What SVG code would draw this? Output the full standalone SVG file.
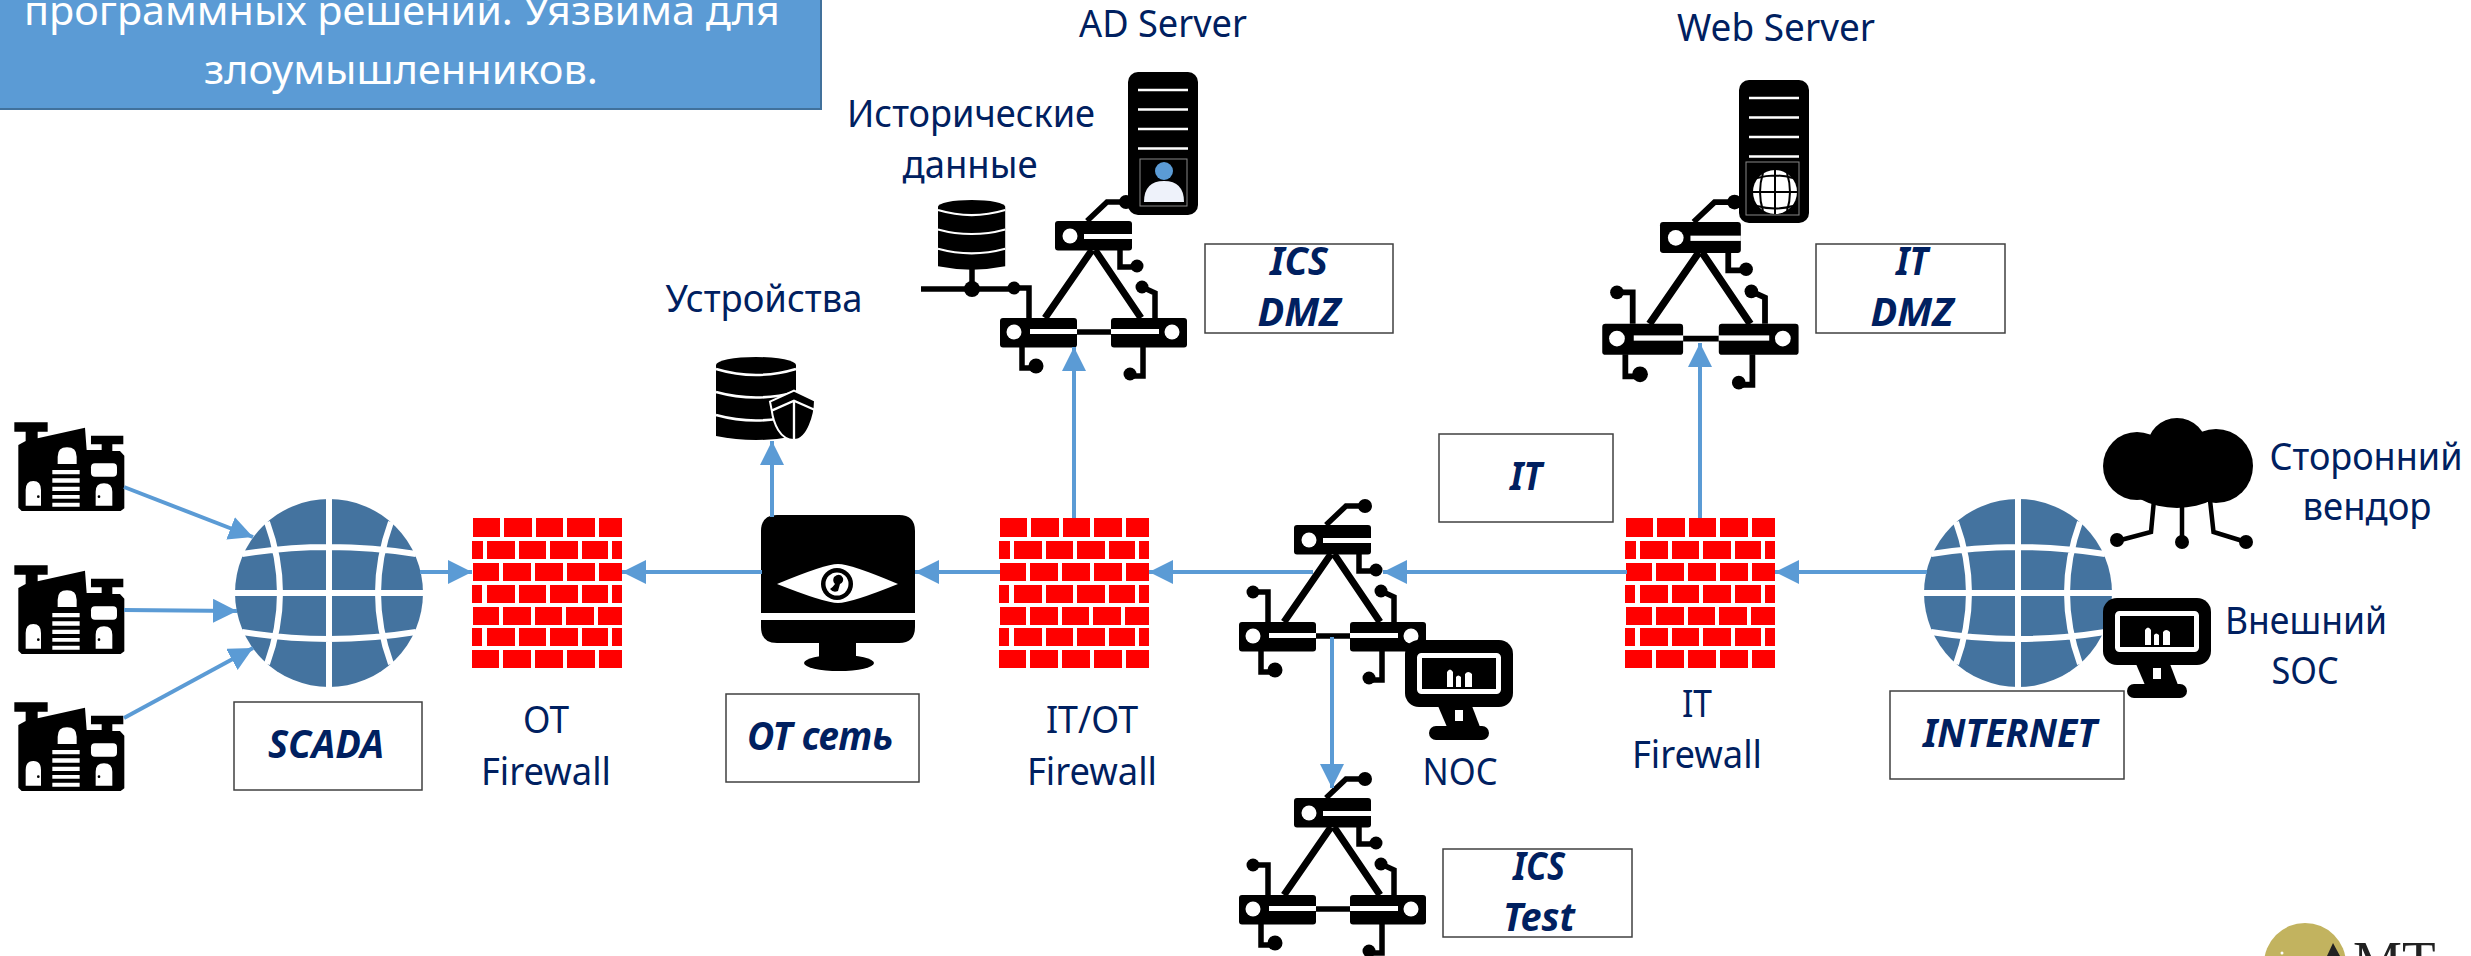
<svg xmlns="http://www.w3.org/2000/svg" width="2471" height="956" viewBox="0 0 2471 956">
<style>
.lbl{font-family:"Noto Sans","Open Sans","DejaVu Sans",sans-serif;font-size:38px;fill:#002060;text-anchor:middle}
.tag{font-family:"Noto Sans","Open Sans","DejaVu Sans",sans-serif;font-size:39px;font-weight:700;font-style:italic;fill:#002060;text-anchor:middle}
.box{fill:#fff;stroke:#404040;stroke-width:1.5}
.conn{fill:none;stroke:#5B9BD5;stroke-width:4;marker-end:url(#arr)}
.w{fill:none;stroke:#000;stroke-width:5.5}
.t{fill:none;stroke:#000;stroke-width:7}
.gl{fill:none;stroke:#fff;stroke-width:6}
</style>
<defs>
<marker id="arr" markerUnits="userSpaceOnUse" markerWidth="24" markerHeight="24" refX="24" refY="12" orient="auto"><path d="M0,0L24,12L0,24Z" fill="#5B9BD5"/></marker>
<g id="globe">
<circle r="94" fill="#44739F"/>
<path class="gl" d="M0,-95V95M-95,0H95M-87,-39Q0,-53 87,-39M-87,39Q0,53 87,39M-62,-71Q-36,0 -62,71M62,-71Q36,0 62,71"/>
</g>
<g id="factory" transform="scale(.3333)">
<path d="M28,22H128V50H98V70L240,38L245,105H290V88H258V62H355V88H322V108H345L358,122V280L347,288H50L40,278V90L62,78V50H28Z"/>
<path fill="#fff" d="M158,147V125Q158,97 186,97Q215,97 215,125V147ZM142,165H224V178H142ZM142,190H224V203H142ZM142,215H224V228H142ZM142,240H224V251H142ZM142,263H224V275H142ZM62,272V225Q62,198 85,198Q108,198 108,225V272ZM272,272V230Q272,205 297,205Q322,205 322,230V272Z"/>
<rect x="258" y="145" width="78" height="40" rx="12" fill="#fff"/>
<circle cx="100" cy="245" r="4"/><circle cx="282" cy="245" r="4"/>
</g>
<g id="wall" fill="#f00">
<path d="M1,0h27v19h-27zM32,0h28v19h-28zM64,0h27v19h-27zM95,0h28v19h-28zM127,0h23v19h-23z"/>
<path d="M0,23h11v18h-11zM15,23h28v18h-28zM47,23h27v18h-27zM78,23h28v18h-28zM110,23h26v18h-26zM140,23h10v18h-10z"/>
<path d="M1,45h26v18h-26zM31,45h28v18h-28zM63,45h28v18h-28zM95,45h28v18h-28zM127,45h23v18h-23z"/>
<path d="M0,67h10v18h-10zM15,67h28v18h-28zM47,67h27v18h-27zM78,67h28v18h-28zM110,67h26v18h-26zM140,67h10v18h-10z"/>
<path d="M1,89h26v18h-26zM31,89h28v18h-28zM63,89h27v18h-27zM94,89h28v18h-28zM126,89h24v18h-24z"/>
<path d="M0,110h10v18h-10zM15,110h28v18h-28zM47,110h27v18h-27zM78,110h28v18h-28zM110,110h26v18h-26zM140,110h10v18h-10z"/>
<path d="M0,132h27v18h-27zM31,132h28v18h-28zM63,132h28v18h-28zM95,132h28v18h-28zM127,132h23v18h-23z"/>
</g>
<g id="net">
<path class="t" d="M37,29L-10,97M40,29L86,97"/>
<path class="w" d="M22,111H56M32,0L52,-19H71M65,29V46H82M100,97V72L87,66M-26,97V67H-41M-33,126V147H-19M88,126V155H75"/>
<rect width="77" height="29.500" rx="3"/><circle cx="15" cy="15" r="7.500" fill="#fff"/><rect x="29" y="13" width="48" height="5" fill="#fff"/>
<rect x="-55" y="97" width="77" height="29.500" rx="3"/><circle cx="-41" cy="111" r="7.500" fill="#fff"/><rect x="-25" y="108" width="47" height="5" fill="#fff"/>
<rect x="56" y="97" width="76" height="29.500" rx="3"/><circle cx="117" cy="111" r="7.500" fill="#fff"/><rect x="56" y="108" width="48" height="5" fill="#fff"/>
<circle cx="71" cy="-19" r="7"/><circle cx="82" cy="45" r="6.500"/><circle cx="87" cy="66" r="6.500"/><circle cx="-41" cy="67" r="6.500"/><circle cx="-19" cy="145" r="7.500"/><circle cx="75" cy="153" r="6.500"/>
</g>
<g id="mon">
<rect width="108" height="67" rx="14"/>
<path d="M33,66L42,87H75L67,66Z"/>
<rect x="24" y="86" width="60" height="14" rx="7"/>
<rect x="50" y="70" width="8" height="11" fill="#fff"/>
<rect x="14.500" y="15.500" width="79" height="36" rx="2" fill="#000" stroke="#fff" stroke-width="5"/>
<path fill="#fff" d="M42,47V32Q45,27 48,32V47ZM51,47V37Q53,34 56,37V47ZM60,47V34Q63,30 67,34V47Z"/>
</g>
<g id="db">
<path d="M0,8V79Q40,87 80,79V8Z"/>
<ellipse cx="40" cy="8" rx="40" ry="8"/>
<path fill="none" stroke="#fff" stroke-width="2.500" d="M0,12Q40,24 80,12M0,35Q40,46 80,35M0,58Q40,69 80,58"/>
</g>
<g id="srv">
<rect width="70" height="143" rx="10"/>
<path stroke="#fff" stroke-width="2.500" d="M10,18H60M10,37.500H60M10,57H60M10,76.500H60"/>
</g>
</defs>

<g id="note">
<rect x="-3" y="-3" width="824" height="112" fill="#5B9BD5" stroke="#41719C" stroke-width="2"/>
<text x="402" y="25" style="font-family:'Noto Sans','Open Sans',sans-serif;font-size:40px;fill:#fff;text-anchor:middle" textLength="756" lengthAdjust="spacingAndGlyphs">программных решений. Уязвима для</text>
<text x="401" y="84" style="font-family:'Noto Sans','Open Sans',sans-serif;font-size:40px;fill:#fff;text-anchor:middle" textLength="394" lengthAdjust="spacingAndGlyphs">злоумышленников.</text>
</g>

<g id="factory1"><use href="#factory" transform="translate(5,415)"/></g>
<g id="factory2"><use href="#factory" transform="translate(5,558)"/></g>
<g id="factory3"><use href="#factory" transform="translate(5,695)"/></g>

<g id="scada-globe"><use href="#globe" transform="translate(329,593)"/></g>
<g id="scada"><rect class="box" x="234" y="702" width="188" height="88"/><text class="tag" x="326" y="758" textLength="116" lengthAdjust="spacingAndGlyphs">SCADA</text></g>

<g id="ot-firewall"><use href="#wall" transform="translate(472,518)"/>
<text class="lbl" x="546" y="733" textLength="46" lengthAdjust="spacingAndGlyphs">OT</text>
<text class="lbl" x="546" y="785" textLength="130" lengthAdjust="spacingAndGlyphs">Firewall</text></g>

<g id="ot-monitor">
<path d="M761,613V531Q761,515 777,515H899Q915,515 915,531V613ZM761,620H915V627Q915,643 899,643H777Q761,643 761,627Z"/>
<rect x="819" y="642" width="37" height="16"/>
<ellipse cx="839" cy="663" rx="35" ry="8"/>
<path fill="#fff" d="M777,584Q825,564 838,564Q851,564 898,584Q851,603 838,603Q825,603 777,584Z"/>
<circle cx="837" cy="584" r="16"/><circle cx="837" cy="584" r="11.500" fill="#fff"/>
<path d="M834,577Q840,572 843,578Q844,582 840,584L838,591Q833,593 830,589Q833,587 835,584Q832,581 834,577Z"/>
</g>
<g id="ot-net"><rect class="box" x="726" y="694" width="193" height="88"/><text class="tag" x="820" y="750" textLength="146" lengthAdjust="spacingAndGlyphs">ОТ сеть</text></g>

<g id="devices">
<text class="lbl" x="764" y="312" textLength="197" lengthAdjust="spacingAndGlyphs">Устройства</text>
<use href="#db" transform="translate(716,357)"/>
<path transform="translate(680,330) scale(.3333)" d="M270,215L342,182L405,212C405,250 385,330 342,330C300,330 280,280 275,240Z" stroke="#fff" stroke-width="6"/>
<path transform="translate(680,330) scale(.3333)" fill="none" stroke="#fff" stroke-width="7" d="M342,212V330M275,242L342,212L405,240"/>
</g>

<g id="itot-firewall"><use href="#wall" transform="translate(999,518)"/>
<text class="lbl" x="1092" y="733" textLength="92" lengthAdjust="spacingAndGlyphs">IT/OT</text>
<text class="lbl" x="1092" y="785" textLength="130" lengthAdjust="spacingAndGlyphs">Firewall</text></g>

<g id="ics-dmz-net"><use href="#net" transform="translate(1055,221)"/>
<path fill="none" stroke="#000" stroke-width="5.500" d="M921,289H1015"/>
<circle cx="972" cy="289" r="8"/></g>
<g id="historian">
<path fill="none" stroke="#000" stroke-width="5.500" d="M972,268V289"/>
<use href="#db" transform="translate(938,200) scale(.84)"/>
<text class="lbl" x="971" y="127" textLength="248" lengthAdjust="spacingAndGlyphs">Исторические</text>
<text class="lbl" x="970" y="178" textLength="135" lengthAdjust="spacingAndGlyphs">данные</text>
</g>
<g id="ad-server">
<text class="lbl" x="1163" y="37" textLength="168" lengthAdjust="spacingAndGlyphs">AD Server</text>
<use href="#srv" transform="translate(1128,72)"/>
<rect x="1140" y="159" width="47" height="47" fill="#000" stroke="#888" stroke-width="1"/>
<circle cx="1164" cy="171" r="9" fill="#5B9BD5"/>
<path fill="#eef2fa" d="M1144,202Q1144,181 1164,181Q1184,181 1184,202Z"/>
</g>
<g id="ics-dmz"><rect class="box" x="1205" y="244" width="188" height="89"/>
<text class="tag" x="1299" y="275" textLength="58" lengthAdjust="spacingAndGlyphs">ICS</text>
<text class="tag" x="1299" y="326" textLength="83" lengthAdjust="spacingAndGlyphs">DMZ</text></g>

<g id="core-net"><use href="#net" transform="translate(1294,525)"/></g>
<g id="noc"><use href="#mon" transform="translate(1405,640)"/>
<text class="lbl" x="1460" y="785" textLength="75" lengthAdjust="spacingAndGlyphs">NOC</text></g>
<g id="it"><rect class="box" x="1439" y="434" width="174" height="88"/><text class="tag" x="1526" y="490" textLength="32" lengthAdjust="spacingAndGlyphs">IT</text></g>

<g id="test-net"><use href="#net" transform="translate(1294,798)"/></g>
<g id="ics-test"><rect class="box" x="1443" y="849" width="189" height="88"/>
<text class="tag" x="1539" y="880" textLength="52" lengthAdjust="spacingAndGlyphs">ICS</text>
<text class="tag" x="1539" y="931" textLength="72" lengthAdjust="spacingAndGlyphs">Test</text></g>

<g id="it-firewall"><use href="#wall" transform="translate(1625,518)"/>
<text class="lbl" x="1697" y="717" textLength="30" lengthAdjust="spacingAndGlyphs">IT</text>
<text class="lbl" x="1697" y="768" textLength="130" lengthAdjust="spacingAndGlyphs">Firewall</text></g>

<g id="it-dmz-net"><use href="#net" transform="translate(1660,222) scale(1.05)"/></g>
<g id="web-server">
<text class="lbl" x="1776" y="41" textLength="198" lengthAdjust="spacingAndGlyphs">Web Server</text>
<use href="#srv" transform="translate(1739,80)"/>
<rect x="1746" y="162" width="53" height="53" fill="#000" stroke="#888" stroke-width="1"/>
<circle cx="1775" cy="192" r="22" fill="#fff"/>
<path fill="none" stroke="#000" stroke-width="2" d="M1775,170V214M1753,192H1797M1757,178Q1775,173 1793,178M1757,206Q1775,211 1793,206M1763,173Q1757,192 1763,211M1787,173Q1793,192 1787,211"/>
</g>
<g id="it-dmz"><rect class="box" x="1816" y="244" width="189" height="89"/>
<text class="tag" x="1912" y="275" textLength="32" lengthAdjust="spacingAndGlyphs">IT</text>
<text class="tag" x="1912" y="326" textLength="83" lengthAdjust="spacingAndGlyphs">DMZ</text></g>

<g id="internet-globe"><use href="#globe" transform="translate(2018,593)"/></g>
<g id="internet"><rect class="box" x="1890" y="691" width="234" height="88"/><text class="tag" x="2010" y="747" textLength="174" lengthAdjust="spacingAndGlyphs">INTERNET</text></g>

<g id="vendor">
<circle cx="2137" cy="466" r="34"/><circle cx="2216" cy="466" r="37"/><circle cx="2177" cy="448" r="30"/>
<ellipse cx="2177" cy="480" rx="50" ry="28"/>
<path fill="none" stroke="#000" stroke-width="4.500" d="M2154,500L2151,532L2117,541M2182,505V542M2210,500L2213.500,532L2246,542"/>
<circle cx="2117" cy="540" r="7"/><circle cx="2182" cy="542" r="7"/><circle cx="2246" cy="542" r="7"/>
<text class="lbl" x="2366" y="470" textLength="193" lengthAdjust="spacingAndGlyphs">Сторонний</text>
<text class="lbl" x="2367" y="520" textLength="129" lengthAdjust="spacingAndGlyphs">вендор</text>
</g>
<g id="soc"><use href="#mon" transform="translate(2103,598)"/>
<text class="lbl" x="2306" y="634" textLength="162" lengthAdjust="spacingAndGlyphs">Внешний</text>
<text class="lbl" x="2305" y="684" textLength="67" lengthAdjust="spacingAndGlyphs">SOC</text></g>

<g id="logo">
<circle cx="2305" cy="964" r="41" fill="#C2B35F"/>
<path d="M2333,943L2327,956H2340Z" fill="#222"/>
<circle cx="2282" cy="953" r="1.500" fill="#fff"/>
<text x="2353" y="979" style="font-family:'Liberation Serif',serif;font-size:55px;fill:#222">MT</text>
</g>

<g id="connectors">
<path class="conn" d="M124,487L253,537"/>
<path class="conn" d="M124,610L237,611"/>
<path class="conn" d="M124,718L253,648"/>
<path class="conn" d="M420,572H472"/>
<path class="conn" d="M762,572H622"/>
<path class="conn" d="M772,517V441"/>
<path class="conn" d="M1000,572H915"/>
<path class="conn" d="M1074,518V347"/>
<path class="conn" d="M1313,572H1149"/>
<path class="conn" d="M1627,572H1383"/>
<path class="conn" d="M1927,572H1775"/>
<path class="conn" d="M1700,518V343"/>
<path class="conn" d="M1332,637V788"/>
</g>
</svg>
